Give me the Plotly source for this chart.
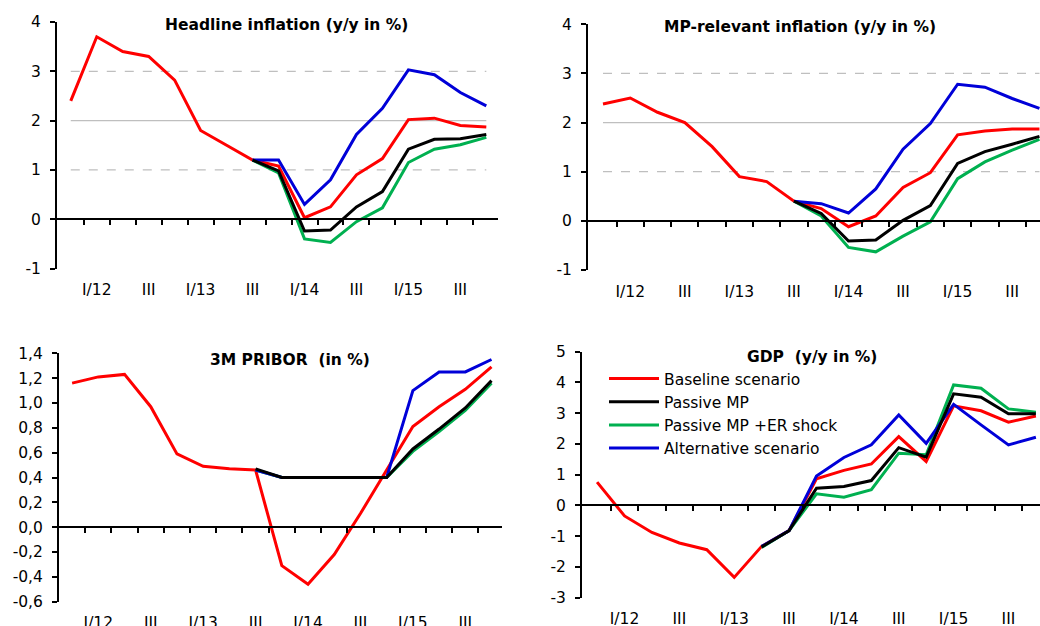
import plotly.graph_objects as go

# quarters IV/11 ... IV/15, labelled every second quarter
periods = list(range(17))
tick_pos = [1, 3, 5, 7, 9, 11, 13, 15]
tick_labels = ["I/12", "III", "I/13", "III", "I/14", "III", "I/15", "III"]
boundaries = [i + 0.5 for i in range(17)]

N7 = [None] * 7
N6 = [None] * 6

# Headline inflation (y/y in %)
hl_base = [2.40, 3.70, 3.40, 3.30, 2.82, 1.80, 1.50, 1.20, 1.08, 0.03, 0.25, 0.90, 1.23, 2.02, 2.05, 1.90, 1.87]
hl_passive = N7 + [1.20, 0.98, -0.24, -0.22, 0.25, 0.56, 1.42, 1.62, 1.63, 1.72]
hl_passive_er = N7 + [1.20, 0.94, -0.40, -0.47, -0.05, 0.23, 1.15, 1.42, 1.51, 1.66]
hl_alt = N7 + [1.20, 1.20, 0.30, 0.80, 1.72, 2.25, 3.03, 2.93, 2.57, 2.30]

# MP-relevant inflation (y/y in %)
mp_base = [2.38, 2.50, 2.21, 2.00, 1.51, 0.90, 0.80, 0.40, 0.25, -0.12, 0.10, 0.68, 0.98, 1.75, 1.83, 1.87, 1.87]
mp_passive = N7 + [0.40, 0.15, -0.41, -0.39, 0.01, 0.31, 1.17, 1.41, 1.56, 1.72]
mp_passive_er = N7 + [0.40, 0.10, -0.54, -0.63, -0.31, -0.02, 0.86, 1.20, 1.44, 1.66]
mp_alt = N7 + [0.40, 0.35, 0.16, 0.65, 1.46, 1.98, 2.78, 2.72, 2.49, 2.29]

# 3M PRIBOR (in %)
pr_base = [1.16, 1.21, 1.23, 0.97, 0.59, 0.49, 0.47, 0.46, -0.31, -0.46, -0.22, 0.11, 0.46, 0.81, 0.97, 1.11, 1.29]
pr_passive = N7 + [0.47, 0.40, 0.40, 0.40, 0.40, 0.40, 0.63, 0.79, 0.96, 1.18]
pr_passive_er = N7 + [0.46, 0.40, 0.40, 0.40, 0.40, 0.40, 0.61, 0.77, 0.94, 1.16]
pr_alt = N7 + [0.46, 0.40, 0.40, 0.40, 0.40, 0.40, 1.10, 1.25, 1.25, 1.35]

# GDP (y/y in %)
gdp_base = [0.76, -0.34, -0.88, -1.22, -1.44, -2.34, -1.33, -0.82, 0.87, 1.14, 1.35, 2.24, 1.43, 3.24, 3.08, 2.71, 2.91]
gdp_passive = N6 + [-1.35, -0.82, 0.56, 0.62, 0.81, 1.88, 1.57, 3.63, 3.52, 2.98, 2.98]
gdp_passive_er = N6 + [-1.37, -0.82, 0.38, 0.27, 0.51, 1.70, 1.65, 3.92, 3.81, 3.14, 3.03]
gdp_alt = N6 + [-1.33, -0.82, 0.96, 1.56, 1.97, 2.94, 2.02, 3.29, 2.62, 1.97, 2.22]

# inflation target band
target_levels = [1, 2, 3]

names = ["Baseline scenario", "Passive MP", "Passive MP +ER shock", "Alternative scenario"]
colors = ["#FF0000", "#000000", "#00B050", "#0000D8"]
draw_order = [0, 2, 3, 1]  # red, green, blue, black on top

W, H = 1040, 626
FONT = "DejaVu Sans, Arial, sans-serif"

panels = [
    dict(title="Headline inflation (y/y in %)", series=[hl_base, hl_passive, hl_passive_er, hl_alt],
         px=(57, 498), py=(22, 268.5), yr=(-1, 4), dtick=1, xr=(-0.53, 16.45), band=True,
         tx=286, ty=25, fmt=None),
    dict(title="MP-relevant inflation (y/y in %)", series=[mp_base, mp_passive, mp_passive_er, mp_alt],
         px=(588, 1040), py=(24.3, 270), yr=(-1, 4), dtick=1, xr=(-0.55, 16.02), band=True,
         tx=800, ty=27, fmt=None),
    dict(title="3M PRIBOR  (in %)", series=[pr_base, pr_passive, pr_passive_er, pr_alt],
         px=(59, 502), py=(353.3, 601.7), yr=(-0.6, 1.4), dtick=0.2, xr=(-0.5, 16.4), band=False,
         tx=290, ty=360, fmt="comma"),
    dict(title="GDP  (y/y in %)", series=[gdp_base, gdp_passive, gdp_passive_er, gdp_alt],
         px=(582, 1040), py=(351.7, 597.7), yr=(-3, 5), dtick=1, xr=(-0.55, 16.15), band=False,
         tx=812, ty=357, fmt=None),
]

fig = go.Figure()
layout = {}
annotations = []

for k, p in enumerate(panels, start=1):
    xa, ya, xz = f"x{k}", f"y{k}", f"x{k + 4}"
    xdom = [p["px"][0] / W, p["px"][1] / W]
    ydom = [1 - p["py"][1] / H, 1 - p["py"][0] / H]
    r0, r1 = p["yr"]
    zero_pos = ydom[0] + (0 - r0) / (r1 - r0) * (ydom[1] - ydom[0])

    if p["band"]:
        for lvl in target_levels:
            fig.add_trace(go.Scatter(
                x=periods, y=[lvl] * len(periods), xaxis=xa, yaxis=ya, mode="lines",
                line=dict(color="#BFBFBF", width=1.3, dash="solid" if lvl == 2 else "dash"),
                showlegend=False, hoverinfo="skip"))

    for i in draw_order:
        fig.add_trace(go.Scatter(
            x=periods, y=p["series"][i], xaxis=xa, yaxis=ya, mode="lines",
            name=names[i], line=dict(color=colors[i], width=3),
            showlegend=(k == 4), legendrank=i + 1))

    # empty trace so the zero-line axis gets drawn
    fig.add_trace(go.Scatter(x=[], y=[], xaxis=xz, yaxis=ya, showlegend=False, hoverinfo="skip"))

    n_ticks = int(round((r1 - r0) / p["dtick"])) + 1
    yvals = [round(r0 + j * p["dtick"], 2) for j in range(n_ticks)]
    if p["fmt"] == "comma":
        ytext = [f"{v:.1f}".replace(".", ",") for v in yvals]
    else:
        ytext = [f"{v:g}" for v in yvals]

    key = "" if k == 1 else str(k)
    layout[f"xaxis{key}"] = dict(
        domain=xdom, range=list(p["xr"]), anchor=ya, tickvals=tick_pos, ticktext=tick_labels,
        showline=False, showgrid=False, zeroline=False, ticks="", ticklabelstandoff=10,
        tickfont=dict(size=15.5, color="#000000", family=FONT), automargin=False)
    layout[f"yaxis{key}"] = dict(
        domain=ydom, range=[r0, r1], anchor=xa, tickvals=yvals, ticktext=ytext,
        showline=True, linecolor="#000000", linewidth=2, ticks="outside", ticklen=5,
        tickwidth=1.5, tickcolor="#000000", showgrid=False, zeroline=False,
        ticklabelstandoff=6, tickfont=dict(size=15.5, color="#000000", family=FONT),
        automargin=False)
    layout[f"xaxis{k + 4}"] = dict(
        overlaying=xa, anchor="free", position=zero_pos, side="bottom", range=list(p["xr"]),
        tickvals=boundaries, ticks="outside", ticklen=5, tickwidth=1.5, tickcolor="#000000",
        showticklabels=False, showline=True, linecolor="#000000", linewidth=2,
        showgrid=False, zeroline=False, automargin=False)

    annotations.append(dict(
        text=f"<b>{p['title']}</b>", x=p["tx"] / W, y=1 - p["ty"] / H, xref="paper", yref="paper",
        xanchor="center", yanchor="middle", showarrow=False,
        font=dict(size=15.5, color="#000000", family=FONT)))

fig.update_layout(
    **layout,
    annotations=annotations,
    width=W, height=H,
    template="none",
    margin=dict(l=0, r=0, t=0, b=0),
    paper_bgcolor="#FFFFFF", plot_bgcolor="rgba(0,0,0,0)",
    font=dict(family=FONT, size=15.5, color="#000000"),
    showlegend=True,
    legend=dict(x=604 / W, y=1 - 362 / H, xanchor="left", yanchor="top",
                bgcolor="rgba(0,0,0,0)", borderwidth=0, tracegroupgap=0, itemwidth=50,
                font=dict(size=15.5, color="#000000", family=FONT)),
)

fig.write_html("out.html", config={"displayModeBar": False},
               post_script="document.body.style.margin='0';")
